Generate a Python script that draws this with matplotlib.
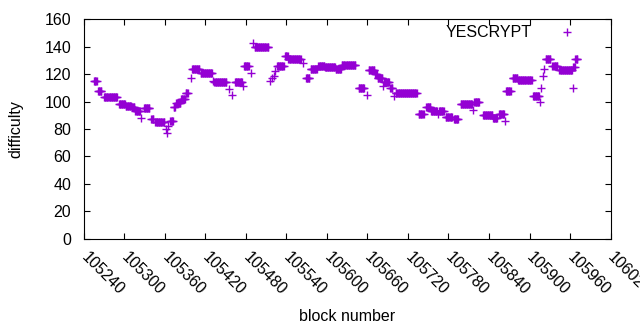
import numpy as np
import matplotlib.pyplot as plt
import matplotlib.transforms as mtransforms

plt.rcParams['font.family'] = ['Liberation Sans', 'DejaVu Sans']

# runs of equal difficulty: first block, last block, value
run_first = [105255, 105261, 105270, 105292, 105302, 105311, 105316, 105325, 105329, 105340,
             105346, 105362, 105363, 105365, 105368, 105373, 105377, 105384, 105391, 105398,
             105400, 105413, 105431, 105433, 105455, 105459, 105464, 105475, 105477, 105487,
             105490, 105493, 105516, 105518, 105521, 105523, 105526, 105538, 105543, 105565,
             105569, 105576, 105587, 105597, 105613, 105622, 105647, 105660, 105662, 105671,
             105675, 105683, 105685, 105694, 105699, 105702, 105736, 105747, 105754, 105765,
             105766, 105776, 105788, 105798, 105817, 105818, 105831, 105846, 105855, 105864,
             105865, 105875, 105883, 105905, 105916, 105917, 105920, 105922, 105924, 105934,
             105944, 105964, 105965, 105968]
run_last = [105259, 105266, 105289, 105301, 105310, 105315, 105323, 105325, 105337, 105343,
            105359, 105362, 105363, 105365, 105372, 105375, 105383, 105390, 105394, 105398,
            105411, 105430, 105431, 105451, 105455, 105459, 105474, 105475, 105484, 105487,
            105490, 105513, 105516, 105518, 105521, 105523, 105536, 105542, 105561, 105565,
            105574, 105585, 105596, 105612, 105621, 105642, 105655, 105660, 105670, 105674,
            105682, 105683, 105692, 105697, 105699, 105733, 105743, 105753, 105763, 105765,
            105773, 105785, 105794, 105815, 105817, 105825, 105845, 105852, 105862, 105864,
            105872, 105882, 105903, 105914, 105916, 105917, 105920, 105922, 105931, 105941,
            105963, 105964, 105967, 105971]
run_value = [115, 108, 103, 98, 97, 96, 93, 88, 95, 87,
             85, 80, 77, 82, 86, 96, 99, 102, 106, 117,
             124, 121, 115, 114, 109, 105, 114, 111, 126, 121,
             143, 140, 115, 117, 119, 122, 126, 133, 131, 128,
             117, 124, 126, 125, 124, 127, 110, 105, 123, 120,
             117, 111, 114, 110, 104, 106, 91, 96, 93, 91,
             93, 89, 87, 98, 94, 100, 90, 88, 91, 86,
             108, 117, 116, 104, 100, 110, 119, 124, 131, 126,
             123, 110, 125, 131]

blocks = np.concatenate([np.arange(a, b + 1) for a, b in zip(run_first, run_last)])
difficulty = np.concatenate([np.full(b - a + 1, v) for a, b, v in zip(run_first, run_last, run_value)])

color = '#9400D3'
fs = 11.5

fig = plt.figure(figsize=(6.4, 3.3), dpi=100)
ax = fig.add_axes([0.131, 0.2767, 0.823, 0.6648])

ax.plot(blocks, difficulty, linestyle='none', marker='+', color=color,
        markersize=5.5, markeredgewidth=1.0)

ax.set_xlim(105240, 106020)
ax.set_ylim(0, 160)
ax.set_xticks(range(105240, 106021, 60))
ax.set_yticks(range(0, 161, 20))

ax.tick_params(direction='in', length=4, width=0.8, top=True, right=True, labelsize=fs)
ax.tick_params(axis='y', pad=9)
ax.tick_params(axis='x', pad=8)
shift = mtransforms.ScaledTranslation(5 / 100, 0, fig.dpi_scale_trans)
for lab in ax.get_xticklabels():
    lab.set_rotation(-45)
    lab.set_ha('left')
    lab.set_va('top')
    lab.set_rotation_mode('anchor')
    lab.set_transform(lab.get_transform() + shift)

for sp in ax.spines.values():
    sp.set_linewidth(0.8)

ax.set_xlabel('block number', fontsize=fs, labelpad=8)
ax.set_ylabel('difficulty', fontsize=fs, labelpad=15)

# key in the top right corner, gnuplot style
ax.text(0.851, 0.942, 'YESCRYPT', transform=ax.transAxes, ha='right', va='center', fontsize=fs)
ax.plot([0.917], [0.942], transform=ax.transAxes, linestyle='none', marker='+', color=color,
        markersize=5.5, markeredgewidth=1.0, clip_on=False)

fig.savefig('out.png', dpi=100)
